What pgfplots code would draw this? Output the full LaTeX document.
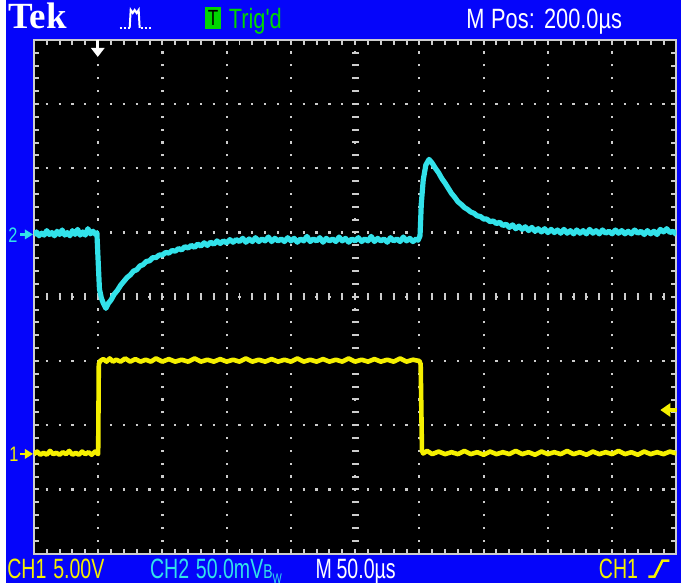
\documentclass[border=0pt]{standalone}
\usepackage{pgfplots}
\pgfplotsset{compat=1.18}
\usepackage{fontspec}
\newfontfamily\osc[FakeStretch=0.78]{Liberation Sans}
\newfontfamily\oscn[FakeStretch=0.7]{Liberation Sans}
\newfontfamily\tekfont{Liberation Serif}
\definecolor{scopeblue}{RGB}{5,5,250}
\definecolor{tcyan}{RGB}{50,226,234}
\definecolor{tyellow}{RGB}{245,240,0}
\definecolor{tgreen}{RGB}{0,215,0}
\definecolor{gridgray}{RGB}{205,205,205}
\tikzset{hd/.style={anchor=base west, inner sep=0, font=\osc\fontsize{14pt}{14pt}\selectfont},
         ft/.style={anchor=base west, inner sep=0, font=\oscn\fontsize{14pt}{14pt}\selectfont}}

\begin{document}
\begin{tikzpicture}
% page in screen pixels: x right, y down
\begin{scope}[shift={(-17pt,277.5pt)},x=0.5pt,y=-0.5pt]
  \useasboundingbox (0,0) rectangle (683,584);
  \fill[white] (0,0) rectangle (683,584);
  \fill[scopeblue] (6,0) rectangle (683,584);
\end{scope}

\begin{axis}[
  at={(0,0)}, anchor=south west,
  scale only axis, width=322pt, height=257.5pt,
  xmin=0, xmax=10, ymin=-4, ymax=4,
  axis background/.style={fill=black},
  axis line style={gridgray, line width=1pt},
  xtick={0,...,10}, ytick={-4,...,4},
  minor x tick num=4, minor y tick num=4,
  xticklabels={}, yticklabels={},
  tick align=inside,
  tick style={gridgray, line width=1pt},
  major tick length=2.5pt, minor tick length=2.5pt,
  grid=major,
  major grid style={gridgray, line width=1.1pt, dash pattern=on 1.1pt off 5.34pt, dash phase=0.55pt},
]
  % centre graticule lines
  \draw[gridgray, line width=3.5pt, dash pattern=on 1pt off 5.44pt, dash phase=0.5pt]
    (axis cs:0,0) -- (axis cs:10,0);
  \draw[gridgray, line width=3.5pt, dash pattern=on 1pt off 5.44pt, dash phase=0.5pt]
    (axis cs:5,-4) -- (axis cs:5,4);

  % CH2 (cyan)
  \addplot[tcyan, line width=2.6pt, line join=round] coordinates {
    (0,0.96)(0.04,1.01)(0.08,0.95)(0.12,0.99)(0.16,0.96)(0.2,1.03)(0.24,0.97)(0.28,1.00)
    (0.32,0.95)(0.36,1.02)(0.4,0.97)(0.44,1.04)(0.48,0.96)(0.52,1.00)(0.56,0.95)(0.6,1.03)
    (0.64,0.97)(0.68,1.05)(0.72,0.96)(0.76,1.01)(0.8,0.96)(0.84,1.06)(0.88,0.98)(0.92,1.02)
    (0.96,0.97)(0.98,1.00)
    (1.00,0.55)(1.02,0.12)(1.05,-0.02)(1.08,-0.10)(1.12,-0.18)(1.16,-0.10)(1.2,-0.05)
    (1.25,0.04)(1.3,0.10)(1.35,0.18)(1.4,0.24)(1.45,0.30)(1.5,0.34)(1.55,0.40)(1.6,0.42)
    (1.65,0.48)(1.7,0.50)(1.75,0.55)(1.8,0.56)(1.85,0.61)(1.9,0.61)(1.95,0.65)(2.0,0.65)
    (2.05,0.69)(2.1,0.68)(2.15,0.72)(2.2,0.71)(2.25,0.75)(2.3,0.73)(2.35,0.78)(2.4,0.76)
    (2.45,0.80)(2.5,0.77)(2.55,0.82)(2.6,0.79)(2.65,0.84)(2.7,0.80)(2.75,0.85)(2.8,0.82)
    (2.85,0.87)(2.9,0.83)(2.95,0.87)(3.0,0.84)(3.05,0.89)(3.1,0.85)(3.15,0.89)(3.2,0.86)
    (3.25,0.91)(3.3,0.85)(3.35,0.90)(3.4,0.86)(3.45,0.92)(3.5,0.86)(3.55,0.90)(3.6,0.87)
    (3.65,0.93)(3.7,0.86)(3.75,0.91)(3.8,0.87)(3.85,0.90)(3.9,0.86)(3.95,0.92)(4.0,0.87)
    (4.05,0.91)(4.1,0.85)(4.15,0.90)(4.2,0.87)(4.25,0.94)(4.3,0.86)(4.35,0.90)(4.4,0.87)
    (4.45,0.92)(4.5,0.85)(4.55,0.91)(4.6,0.87)(4.65,0.90)(4.7,0.86)(4.75,0.93)(4.8,0.87)
    (4.85,0.91)(4.9,0.85)(4.95,0.90)(5.0,0.87)(5.05,0.92)(5.1,0.86)(5.15,0.90)(5.2,0.87)
    (5.25,0.94)(5.3,0.86)(5.35,0.91)(5.4,0.87)(5.45,0.90)(5.5,0.85)(5.55,0.92)(5.6,0.87)
    (5.65,0.90)(5.7,0.86)(5.75,0.93)(5.8,0.87)(5.85,0.91)(5.9,0.86)(5.95,0.90)(5.98,0.88)
    (6.01,0.95)(6.03,1.45)(6.06,1.82)(6.10,2.05)(6.15,2.14)(6.2,2.08)(6.25,2.00)(6.3,1.93)
    (6.35,1.84)(6.4,1.77)(6.45,1.69)(6.5,1.61)(6.55,1.55)(6.6,1.48)(6.65,1.44)(6.7,1.39)
    (6.75,1.36)(6.8,1.32)(6.85,1.30)(6.9,1.26)(6.95,1.25)(7.0,1.21)(7.05,1.21)(7.1,1.17)
    (7.15,1.18)(7.2,1.14)(7.25,1.16)(7.3,1.11)(7.35,1.13)(7.4,1.08)(7.45,1.12)(7.5,1.06)
    (7.55,1.10)(7.6,1.05)(7.65,1.09)(7.7,1.03)(7.75,1.08)(7.8,1.02)(7.85,1.06)(7.9,1.01)
    (7.95,1.06)(8.0,1.00)(8.05,1.05)(8.1,1.00)(8.15,1.04)(8.2,0.99)(8.25,1.05)(8.3,0.99)
    (8.35,1.03)(8.4,0.98)(8.45,1.04)(8.5,0.99)(8.55,1.03)(8.6,0.98)(8.65,1.05)(8.7,0.99)
    (8.75,1.03)(8.8,0.98)(8.85,1.04)(8.9,0.99)(8.95,1.02)(9.0,0.98)(9.05,1.04)(9.1,0.99)
    (9.15,1.03)(9.2,0.98)(9.25,1.02)(9.3,0.98)(9.35,1.04)(9.4,0.99)(9.45,1.02)(9.5,0.97)
    (9.55,1.03)(9.6,0.98)(9.65,1.02)(9.7,0.97)(9.75,1.05)(9.8,1.01)(9.85,1.06)(9.9,1.00)
    (9.95,1.02)(10,0.97)
  };

  % CH1 (yellow)
  \addplot[tyellow, line width=2.3pt, line join=round] coordinates {
    (0,-2.45)(0.05,-2.41)(0.1,-2.46)(0.15,-2.43)(0.2,-2.46)(0.25,-2.40)(0.3,-2.45)
    (0.35,-2.43)(0.4,-2.46)(0.45,-2.42)(0.5,-2.45)(0.55,-2.40)(0.6,-2.46)(0.65,-2.43)
    (0.7,-2.46)(0.75,-2.41)(0.8,-2.45)(0.85,-2.42)(0.9,-2.46)(0.95,-2.41)(1.0,-2.45)
    (1.01,-1.05)(1.03,-1.00)(1.08,-0.97)(1.13,-1.01)(1.18,-0.96)(1.23,-1.01)(1.28,-0.98)
    (1.35,-1.01)(1.42,-0.96)(1.5,-1.01)(1.58,-0.97)(1.66,-1.01)(1.74,-0.98)(1.82,-1.01)
    (1.9,-0.96)(2.0,-1.01)(2.1,-0.97)(2.2,-1.01)(2.3,-0.98)(2.4,-1.01)(2.5,-0.96)
    (2.6,-1.01)(2.7,-0.98)(2.8,-1.01)(2.9,-0.97)(3.0,-1.01)(3.1,-0.98)(3.2,-1.01)
    (3.3,-0.96)(3.4,-1.01)(3.5,-0.98)(3.6,-1.01)(3.7,-0.97)(3.8,-1.01)(3.9,-0.98)
    (4.0,-1.01)(4.1,-0.96)(4.2,-1.01)(4.3,-0.98)(4.4,-1.01)(4.5,-0.97)(4.6,-1.01)
    (4.7,-0.98)(4.8,-1.01)(4.9,-0.96)(5.0,-1.01)(5.1,-0.98)(5.2,-1.01)(5.3,-0.97)
    (5.4,-1.01)(5.5,-0.98)(5.6,-1.01)(5.7,-0.96)(5.8,-1.01)(5.9,-0.98)(6.0,-1.00)
    (6.02,-1.05)(6.04,-2.40)(6.06,-2.44)(6.12,-2.40)(6.2,-2.45)(6.3,-2.41)(6.4,-2.45)
    (6.5,-2.42)(6.6,-2.45)(6.7,-2.40)(6.8,-2.45)(6.9,-2.42)(7.0,-2.46)(7.1,-2.41)
    (7.2,-2.45)(7.3,-2.42)(7.4,-2.45)(7.5,-2.40)(7.6,-2.45)(7.7,-2.42)(7.8,-2.46)
    (7.9,-2.41)(8.0,-2.45)(8.1,-2.42)(8.2,-2.45)(8.3,-2.40)(8.4,-2.45)(8.5,-2.42)
    (8.6,-2.46)(8.7,-2.41)(8.8,-2.45)(8.9,-2.42)(9.0,-2.45)(9.1,-2.40)(9.2,-2.45)
    (9.3,-2.42)(9.4,-2.46)(9.5,-2.41)(9.6,-2.45)(9.7,-2.42)(9.8,-2.45)(9.9,-2.41)
    (10,-2.44)
  };
\end{axis}

\begin{scope}[shift={(-17pt,277.5pt)},x=0.5pt,y=-0.5pt]
  % header
  \node[anchor=base west, inner sep=0, text=white, font=\tekfont\bfseries\fontsize{18.5pt}{18.5pt}\selectfont] at (8,29) {Tek};
  \draw[white, line width=1pt, dash pattern=on 1pt off 1pt] (120,28) -- (130,28);
  \draw[white, line width=1pt, dash pattern=on 1pt off 1pt] (141,28) -- (151,28);
  \draw[white, line width=1pt] (130,28) -- (131,10) -- (133,13) -- (135,10) -- (137,13) -- (139,10) -- (140,28);
  \fill[tgreen] (205,7) rectangle (222,29);
  \node[anchor=base, inner sep=0, text=black, font=\osc\fontsize{11pt}{11pt}\selectfont] at (213.5,26) {T};
  \node[hd, text=tgreen] at (229,29) {Trig'd};
  \node[hd, text=white] at (467,29) {M};
  \node[hd, text=white] at (492,29) {Pos:};
  \node[hd, text=white] at (545,29) {200.0µs};
  % footer
  \node[ft, text=tyellow] at (7,580) {CH1};
  \node[ft, text=tyellow] at (53,580) {5.00V};
  \node[ft, text=tcyan] at (150,580) {CH2};
  \node[ft, text=tcyan] at (196,580) {50.0mV\fontsize{10pt}{10pt}\selectfont B\raisebox{-2.5pt}{\fontsize{7pt}{7pt}\selectfont W}};
  \node[ft, text=white] at (316,580) {M};
  \node[ft, text=white] at (337,580) {50.0µs};
  \node[ft, text=tyellow] at (600,580) {CH1};
  \draw[tyellow, line width=1.3pt] (650,578) -- (656,578) -- (664,562) -- (671,562);
  % channel ground markers
  \node[anchor=base west, inner sep=0, text=tcyan, font=\osc\fontsize{10.5pt}{10.5pt}\selectfont] at (8,243) {2};
  \draw[tcyan, line width=1.2pt] (20,235) -- (27,235);
  \fill[tcyan] (25,230) -- (33,235) -- (25,240) -- cycle;
  \node[anchor=base west, inner sep=0, text=tyellow, font=\osc\fontsize{10.5pt}{10.5pt}\selectfont] at (9,463) {1};
  \draw[tyellow, line width=1.2pt] (20,455) -- (27,455);
  \fill[tyellow] (25,450) -- (33,455) -- (25,460) -- cycle;
  % trigger position and level
  \draw[white, line width=1.5pt] (98,40) -- (98,49);
  \fill[white] (91,48) -- (105,48) -- (98,57) -- cycle;
  \fill[tyellow] (662,411) -- (672,404) -- (672,418) -- cycle;
  \draw[tyellow, line width=2pt] (671,411) -- (679,411);
\end{scope}
\end{tikzpicture}
\end{document}
